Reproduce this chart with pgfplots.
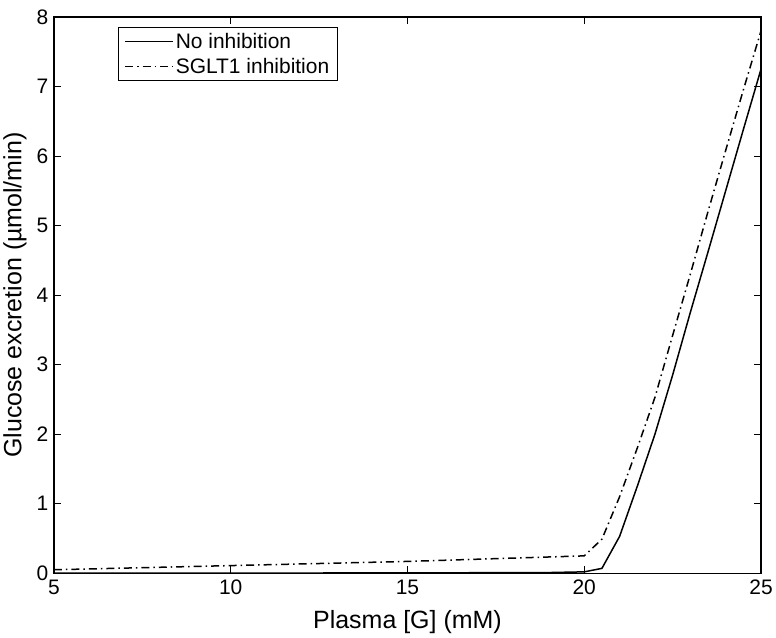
\documentclass[border=0pt]{standalone}
\usepackage{pgfplots}
\pgfplotsset{compat=1.18}
\usepackage{fontspec}
\setmainfont{Liberation Sans}
\begin{document}
\begin{tikzpicture}
\begin{axis}[
  scale only axis,
  width=708pt, height=557pt,
  xmin=5, xmax=25, ymin=0, ymax=8,
  xtick={5,10,15,20,25},
  ytick={0,1,2,3,4,5,6,7,8},
  tick align=inside,
  major tick length=7pt,
  tick style={black, line width=1pt},
  axis line style={line width=1.2pt},
  /pgf/number format/assume math mode=true,
  tick label style={font=\fontsize{21}{25}\selectfont},
  xticklabel style={yshift=-3pt},
  yticklabel style={xshift=-2pt},
  xlabel={Plasma [G] (mM)},
  ylabel={Glucose excretion (µmol/min)},
  label style={font=\fontsize{25}{30}\selectfont},
  xlabel style={at={(axis description cs:0.5,-0.088)}, anchor=center},
  ylabel style={at={(axis description cs:-0.0551,0.5)}, anchor=center},
  legend style={at={(0.0904,0.982)}, anchor=north west, draw=black, line width=1pt,
    font=\fontsize{21}{25}\selectfont, inner xsep=6pt, inner ysep=2pt, row sep=1.5pt,
    nodes={inner xsep=2pt, inner ysep=3.5pt}, cells={anchor=west}},
  legend image code/.code={\draw[#1, line width=1.5pt] (0pt,0pt) -- (48pt,0pt);},
  legend cell align=left,
]
\addplot[black, line width=1.5pt] coordinates {
(5,0) (10,0.002) (15,0.005) (19,0.01) (20,0.02) (20.5,0.07) (21,0.53) (21.5,1.25)
(22,2.0) (22.5,2.85) (23,3.75) (23.5,4.62) (24,5.5) (24.5,6.38) (25,7.25)};
\addlegendentry{No inhibition}
\addplot[black, line width=1.5pt, dash pattern=on 8pt off 4pt on 1.5pt off 4pt] coordinates {
(5,0.05) (10,0.11) (15,0.17) (20,0.25) (20.5,0.49) (21,1.1) (21.5,1.8)
(22,2.53) (22.5,3.42) (23,4.3) (23.5,5.2) (24,6.08) (24.5,6.95) (25,7.8)};
\addlegendentry{SGLT1 inhibition}
\end{axis}
\path (current axis.south west) ++(-54pt,-62pt) (current axis.north east) ++(14pt,17pt);
\end{tikzpicture}
\end{document}
